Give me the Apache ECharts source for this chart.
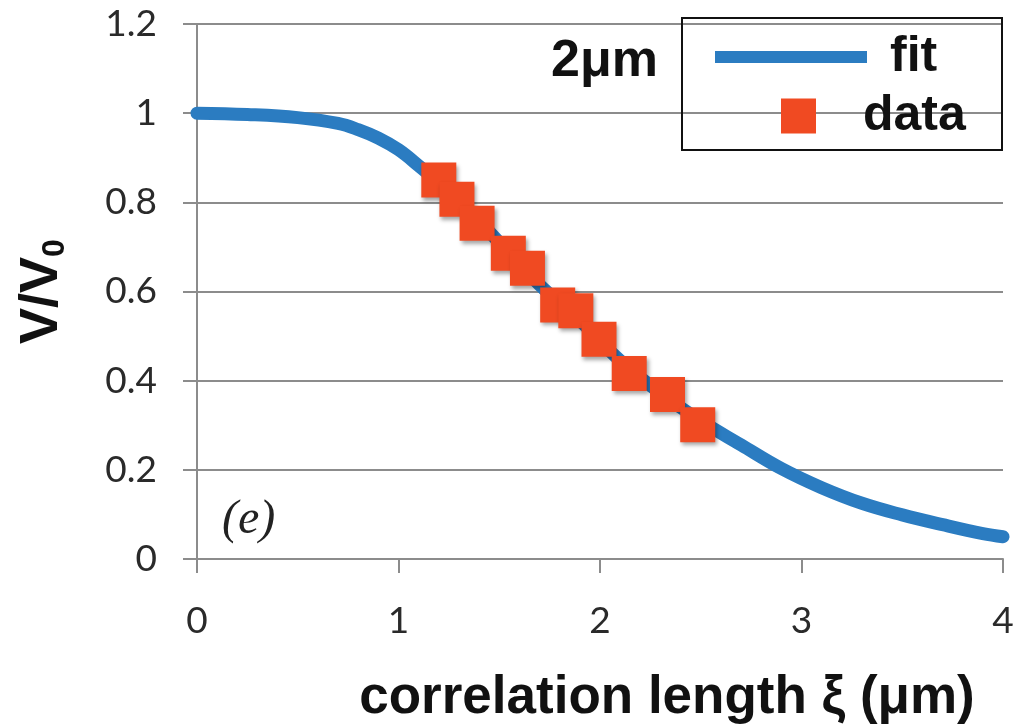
<!DOCTYPE html>
<html>
<head>
<meta charset="utf-8">
<script src="https://cdn.jsdelivr.net/npm/echarts@6/dist/echarts.min.js"></script>
<style>
  html, body { margin: 0; padding: 0; background: #fff; }
  #chart { width: 1025px; height: 724px; }
</style>
</head>
<body>
<div id="chart"></div>
<script>
// fit curve
const fitX = [0, 0.25, 0.5, 0.7, 0.8, 0.9, 1.0, 1.1, 1.3, 1.5, 1.7, 1.9, 2.1, 2.3, 2.5, 2.7, 2.9, 3.1, 3.3, 3.5, 3.7, 3.9, 4.0]
const fitY = [1.0, 0.997, 0.99, 0.977, 0.963, 0.944, 0.918, 0.882, 0.805, 0.71, 0.615, 0.535, 0.445, 0.372, 0.31, 0.256, 0.203, 0.16, 0.125, 0.099, 0.077, 0.057, 0.05]

// measured points
const dataX = [1.2, 1.29, 1.39, 1.545, 1.64, 1.79, 1.88, 1.995, 2.145, 2.335, 2.485]
const dataY = [0.85, 0.807, 0.753, 0.686, 0.652, 0.57, 0.557, 0.493, 0.416, 0.369, 0.301]

const xTicks = ['0', '1', '2', '3', '4']
const yTicks = ['0', '0.2', '0.4', '0.6', '0.8', '1', '1.2']

const chart = echarts.init(document.getElementById('chart'))

const gridColor = '#8c8c8c'
const tickFont = { fontFamily: 'Lato', fontSize: 37, color: '#2a2a2a' }
const boldFont = { fontFamily: 'Liberation Sans', fontWeight: 'bold', color: '#111' }

chart.setOption({
  animation: false,
  backgroundColor: '#fff',
  title: {
    text: '2μm',
    left: 546,
    top: 31,
    textStyle: { ...boldFont, fontSize: 52 }
  },
  legend: [
    {
      data: [{ name: 'fit', icon: 'rect' }],
      left: 710,
      top: 27,
      itemWidth: 152,
      itemHeight: 12,
      textStyle: { ...boldFont, fontSize: 50, padding: [0, 0, 0, 18] }
    },
    {
      data: [{ name: 'data', icon: 'rect' }],
      left: 776,
      top: 86,
      itemWidth: 35,
      itemHeight: 35,
      textStyle: { ...boldFont, fontSize: 50, padding: [0, 0, 0, 42] }
    }
  ],
  graphic: [
    {
      type: 'rect',
      shape: { x: 682, y: 18, width: 320, height: 132 },
      style: { fill: 'none', stroke: '#111', lineWidth: 2 },
      z: 10
    },
    {
      type: 'text',
      left: 222,
      top: 496,
      style: { text: '(e)', font: 'italic 48px "Liberation Serif"', fill: '#222' }
    }
  ],
  grid: {
    left: 197,
    right: 22,
    top: 24,
    bottom: 165,
    outerBoundsMode: 'none'
  },
  xAxis: {
    type: 'value',
    min: 0,
    max: 4,
    interval: 1,
    name: 'correlation length ξ (μm)',
    nameLocation: 'middle',
    nameGap: 113,
    nameTextStyle: { ...boldFont, fontSize: 53, padding: [0, 0, 0, 134] },
    axisLine: { lineStyle: { color: gridColor, width: 2 } },
    axisTick: { show: true, length: 14, lineStyle: { color: gridColor, width: 2 } },
    axisLabel: { ...tickFont, margin: 44, formatter: (v) => xTicks[Math.round(v)] },
    splitLine: { show: false }
  },
  yAxis: {
    type: 'value',
    min: 0,
    max: 1.2,
    interval: 0.2,
    name: '{a|V/V}{b|0}',
    nameLocation: 'middle',
    nameGap: 126,
    nameRotate: 90,
    nameTextStyle: {
      rich: {
        a: { ...boldFont, fontSize: 54 },
        b: { ...boldFont, fontSize: 32, padding: [26, 0, 0, 0] }
      }
    },
    axisLine: { show: true, lineStyle: { color: gridColor, width: 2 } },
    axisTick: { show: true, length: 14, lineStyle: { color: gridColor, width: 2 } },
    axisLabel: { ...tickFont, margin: 40, formatter: (v) => yTicks[Math.round(v / 0.2)] },
    splitLine: { show: true, lineStyle: { color: gridColor, width: 2 } }
  },
  series: [
    {
      name: 'fit',
      type: 'line',
      smooth: 0.4,
      symbol: 'none',
      color: '#2b7cc1',
      lineStyle: { width: 13, cap: 'round', color: '#2b7cc1' },
      data: fitX.map((x, i) => [x, fitY[i]]),
      z: 2
    },
    {
      name: 'data',
      type: 'scatter',
      symbol: 'rect',
      symbolSize: 35,
      color: '#f04a22',
      itemStyle: {
        color: '#f04a22',
        opacity: 1,
        shadowBlur: 4,
        shadowOffsetX: 2,
        shadowOffsetY: 3,
        shadowColor: 'rgba(0,0,0,0.35)'
      },
      data: dataX.map((x, i) => [x, dataY[i]]),
      z: 3
    }
  ]
})
</script>
</body>
</html>
